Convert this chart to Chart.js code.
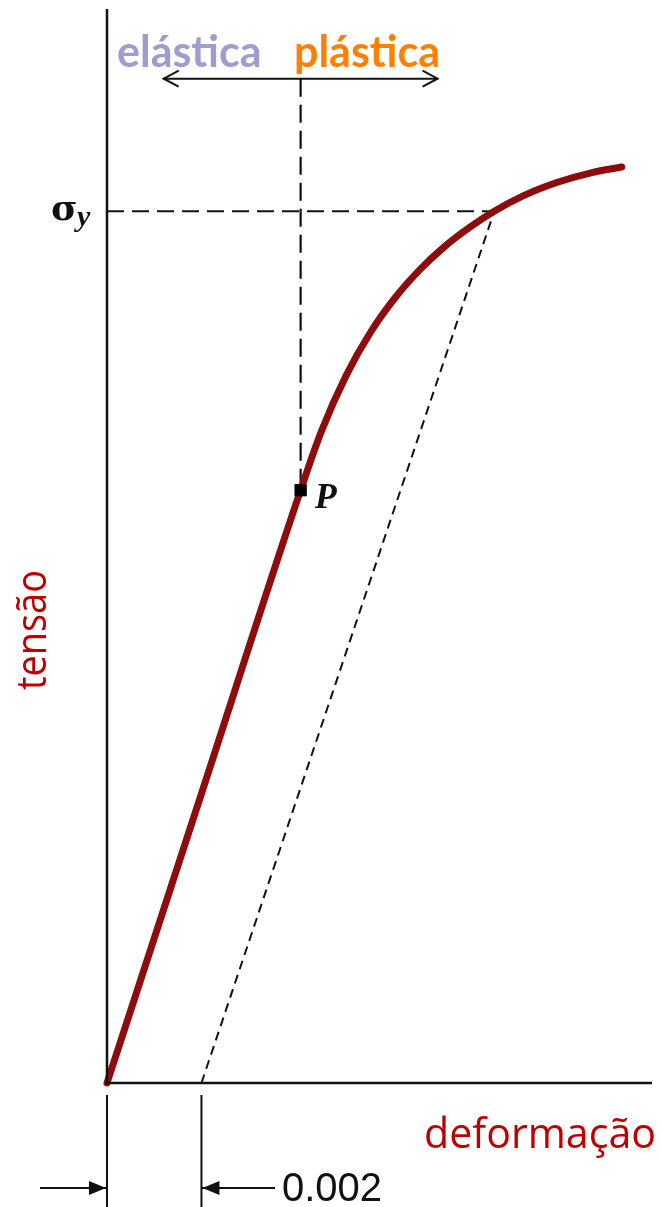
<!DOCTYPE html>
<html>
<head>
<meta charset="utf-8">
<script src="https://cdn.jsdelivr.net/npm/chart.js@4/dist/chart.umd.min.js"></script>
<style>
  html, body { margin: 0; padding: 0; background: #fff; }
  #wrap { width: 661px; height: 1207px; }
</style>
</head>
<body>
<div id="wrap"><canvas id="curva"></canvas></div>
<script>
// curva tensão x deformação (deformação adimensional, tensão em MPa)
const deformacao = [0, 0.002, 0.0041, 0.00454, 0.00506, 0.00558, 0.0061, 0.00662, 0.00715, 0.00767, 0.0082, 0.00881, 0.00954, 0.01027, 0.0109];
const tensao     = [0, 83,    170,    186.9,   202.8,   215.3,   225.2,  233.2,   239.9,   245.3,   250,    254.4,   258.3,   261.1,   262.7];

// ponto P (limite de proporcionalidade) e tensão de escoamento
const pontoP = { x: 0.0041, y: 170 };
const sigmaY = 250;
const defSigmaY = 0.0082;
const offset = 0.002;

// seta elástica / plástica
const setaY = 288;
const setaDe = 0.0012;
const setaAte = 0.0070;

const xMax = 0.01154;
const yMax = 308;

const vermelho = '#8e0c0c';

function pts(xs, ys) {
    let out = [];
    for (let i = 0; i < xs.length; i++) out.push({ x: xs[i], y: ys[i] });
    return out;
}

function seta(ctx, x, y, dir) {
    // ponta de seta aberta
    ctx.beginPath();
    ctx.moveTo(x - dir * 15, y - 8);
    ctx.lineTo(x, y);
    ctx.lineTo(x - dir * 15, y + 8);
    ctx.stroke();
}

const extras = {
    id: 'extras',
    afterDraw(chart) {
        const ctx = chart.ctx;
        const xs = chart.scales.x, ys = chart.scales.y;
        const x0 = xs.getPixelForValue(0);
        const y0 = ys.getPixelForValue(0);
        ctx.save();

        // eixos
        ctx.strokeStyle = '#111';
        ctx.lineWidth = 2.5;
        ctx.beginPath();
        ctx.moveTo(x0, ys.getPixelForValue(yMax));
        ctx.lineTo(x0, y0);
        ctx.lineTo(xs.getPixelForValue(xMax), y0);
        ctx.stroke();

        // pontas da seta superior
        ctx.lineWidth = 2;
        const ya = ys.getPixelForValue(setaY);
        seta(ctx, xs.getPixelForValue(setaDe), ya, -1);
        seta(ctx, xs.getPixelForValue(setaAte), ya, 1);

        // cota de 0.002 abaixo do eixo
        const xo = xs.getPixelForValue(offset);
        ctx.lineWidth = 2;
        ctx.beginPath();
        ctx.moveTo(x0, y0 + 12); ctx.lineTo(x0, 1207);
        ctx.moveTo(xo, y0 + 12); ctx.lineTo(xo, 1207);
        ctx.moveTo(40, 1188); ctx.lineTo(x0, 1188);
        ctx.moveTo(xo, 1188); ctx.lineTo(275, 1188);
        ctx.stroke();
        ctx.fillStyle = '#111';
        ctx.beginPath();
        ctx.moveTo(x0 - 1, 1188); ctx.lineTo(x0 - 18, 1181); ctx.lineTo(x0 - 18, 1195); ctx.closePath();
        ctx.moveTo(xo + 1, 1188); ctx.lineTo(xo + 18, 1181); ctx.lineTo(xo + 18, 1195); ctx.closePath();
        ctx.fill();

        ctx.textBaseline = 'alphabetic';
        ctx.textAlign = 'left';
        ctx.font = '40px "Liberation Sans", Arial, sans-serif';
        ctx.fillText('0.002', 282, 1201, 102);

        // rótulos
        ctx.font = 'bold 43px Lato, "Open Sans", sans-serif';
        ctx.fillStyle = '#9d9dd0';
        ctx.fillText('elástica', 117, 67, 146);
        ctx.fillStyle = '#ff8000';
        ctx.fillText('plástica', 294, 67, 147);

        ctx.fillStyle = '#c00000';
        ctx.font = '42px "Open Sans", sans-serif';
        ctx.fillText('deformação', 424, 1148, 232);
        ctx.save();
        ctx.translate(46, 690);
        ctx.rotate(-Math.PI / 2);
        ctx.fillText('tensão', 0, 0, 120);
        ctx.restore();

        // σy
        ctx.fillStyle = '#111';
        ctx.font = 'bold 36px "DejaVu Serif", "Liberation Serif", serif';
        ctx.fillText('σ', 51, ys.getPixelForValue(sigmaY) + 9);
        ctx.font = 'bold italic 30px "Liberation Serif", serif';
        ctx.fillText('y', 77, ys.getPixelForValue(sigmaY) + 15);

        // P
        ctx.font = 'bold italic 36px "Liberation Serif", serif';
        ctx.fillText('P', xs.getPixelForValue(pontoP.x) + 14, ys.getPixelForValue(pontoP.y) + 18);

        ctx.restore();
    }
};

new Chart(document.getElementById('curva').getContext('2d'), {
    type: 'scatter',
    data: {
        datasets: [{
            label: 'P',
            data: [pontoP],
            pointStyle: 'rect',
            pointRadius: 8,
            backgroundColor: '#000',
            borderColor: '#000',
            showLine: false
        }, {
            label: 'curva',
            data: pts(deformacao, tensao),
            showLine: true,
            borderColor: vermelho,
            borderWidth: 7,
            borderCapStyle: 'round',
            pointRadius: 0,
            cubicInterpolationMode: 'monotone'
        }, {
            label: 'offset',
            data: [{ x: offset, y: 0 }, { x: defSigmaY, y: sigmaY }],
            showLine: true,
            borderColor: '#111',
            borderWidth: 2,
            borderDash: [9, 6],
            pointRadius: 0
        }, {
            label: 'sigma_y',
            data: [{ x: 0, y: sigmaY }, { x: defSigmaY, y: sigmaY }],
            showLine: true,
            borderColor: '#111',
            borderWidth: 2.2,
            borderDash: [17, 8],
            pointRadius: 0
        }, {
            label: 'vertical P',
            data: [{ x: pontoP.x, y: setaY }, pontoP],
            showLine: true,
            borderColor: '#111',
            borderWidth: 2.2,
            borderDash: [18, 8],
            pointRadius: 0
        }, {
            label: 'seta',
            data: [{ x: setaDe, y: setaY }, { x: setaAte, y: setaY }],
            showLine: true,
            borderColor: '#111',
            borderWidth: 2,
            pointRadius: 0
        }]
    },
    options: {
        responsive: true,
        maintainAspectRatio: false,
        animation: false,
        clip: false,
        layout: { padding: { left: 107, top: 8, right: 0, bottom: 124 } },
        plugins: { legend: { display: false }, tooltip: { enabled: false } },
        scales: {
            x: { type: 'linear', min: 0, max: xMax, display: false },
            y: { type: 'linear', min: 0, max: yMax, display: false }
        }
    },
    plugins: [extras]
});
</script>
</body>
</html>
